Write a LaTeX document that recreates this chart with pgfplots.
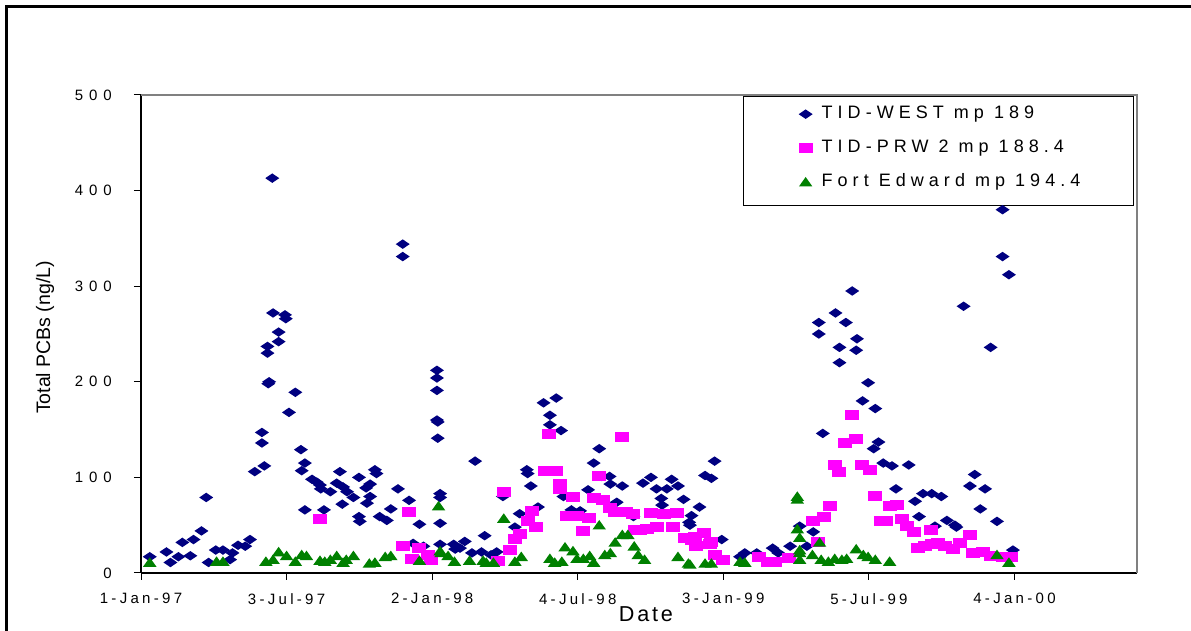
\documentclass[border=0pt]{standalone}
\usepackage{fontspec}
\setmainfont{Liberation Sans}
\usepackage{pgfplots}
\pgfplotsset{compat=1.18}
\newfontfamily\ytickfont[LetterSpace=40]{Liberation Sans}
\newfontfamily\xtickfont[LetterSpace=22]{Liberation Sans}
\newfontfamily\legfont[LetterSpace=28]{Liberation Sans}
\newfontfamily\datefont[LetterSpace=13]{Liberation Sans}
\definecolor{navyc}{HTML}{000080}
\definecolor{magc}{HTML}{FF00FF}
\definecolor{grnc}{HTML}{008000}
\pgfdeclareplotmark{wdia}{%
  \pgfpathmoveto{\pgfqpoint{7pt}{0pt}}%
  \pgfpathlineto{\pgfqpoint{0pt}{4.75pt}}%
  \pgfpathlineto{\pgfqpoint{-7pt}{0pt}}%
  \pgfpathlineto{\pgfqpoint{0pt}{-4.75pt}}%
  \pgfpathclose\pgfusepathqfill}
\pgfdeclareplotmark{wsq}{%
  \pgfpathrectangle{\pgfqpoint{-7pt}{-5pt}}{\pgfqpoint{14pt}{10pt}}%
  \pgfusepathqfill}
\pgfdeclareplotmark{wtri}{%
  \pgfpathmoveto{\pgfqpoint{0pt}{5.2pt}}%
  \pgfpathlineto{\pgfqpoint{6.75pt}{-4.3pt}}%
  \pgfpathlineto{\pgfqpoint{-6.75pt}{-4.3pt}}%
  \pgfpathclose\pgfusepathqfill}
\begin{document}
\begin{tikzpicture}[x=1pt,y=1pt]
\useasboundingbox (0,0) rectangle (1191,631);
\draw[line width=3pt] (6.5,-10) -- (6.5,624.5) -- (1200,624.5);
\begin{axis}[
  at={(141pt,58pt)}, anchor=south west,
  scale only axis, width=996pt, height=478pt,
  xmin=0, xmax=1252, ymin=0, ymax=500,
  clip=false,
  axis lines*=left,
  axis line style={-, black, line width=1.2pt},
  tick align=outside,
  major tick length=7pt,
  every tick/.style={black, line width=1pt},
  xtick={0,183,366,549,732,915,1098},
  xticklabels={1-Jan-97,3-Jul-97,2-Jan-98,4-Jul-98,3-Jan-99,5-Jul-99,4-Jan-00},
  ytick={0,100,200,300,400,500},
  yticklabels={0,100,200,300,400,500},
  xticklabel style={font=\xtickfont\fontsize{15}{18}\selectfont, inner sep=0pt, anchor=north, yshift=-13pt},
  yticklabel style={font=\ytickfont\fontsize{15}{18}\selectfont, inner sep=0pt, anchor=east, xshift=-22pt},
  xlabel={Date},
  xlabel style={at={(rel axis cs:0.507,0)}, anchor=north, yshift=-30pt, font=\datefont\fontsize{21.6}{26}\selectfont},
  ylabel={Total PCBs (ng/L)},
  ylabel style={at={(rel axis cs:-0.0964,0.4927)}, anchor=center, font=\fontsize{19.5}{23}\selectfont},
  legend cell align=left,
  legend style={draw=none, fill=none, at={(rel axis cs:0.6601,0.9906)}, anchor=north west,
    inner sep=0pt, row sep=5pt, font=\legfont\fontsize{18}{21.6}\selectfont,
    nodes={text height=13pt, text depth=4pt, inner ysep=6pt},
    /tikz/every odd column/.append style={column sep=7pt}},
]
\draw[gray, line width=1.2pt] (rel axis cs:0,1) -- (rel axis cs:1,1) -- (rel axis cs:1,0);
\draw[black, line width=0.8pt] (rel axis cs:0.6044,0.9979) rectangle (rel axis cs:0.9960,0.7699);
\addplot[only marks, mark=wdia, color=navyc] coordinates {
(11,17)(32,22)(37,11)(47,17)(52,32)(62,18)(66,35)(76,44)(82,79)(85,11)(94,24)(103,24)(112,14)(115,21)(122,29)(131,28)(137,35)(143,106)(152,147)(152,136)(155,112)(159,237)(159,230)(160,198)(161,200)(165,413)(166,272)(173,252)(173,242)(181,270)(182,266)(186,168)(194,189)(201,129)(202,107)(206,115)(206,66)(215,98)(221,95)(225,92)(226,88)(230,66)(238,85)(246,94)(250,106)(253,72)(254,90)(259,85)(267,79)(274,100)(274,59)(275,54)(283,89)(284,73)(288,93)(288,80)(294,108)(296,104)(300,59)(309,55)(314,67)(323,88)(329,344)(329,331)(337,76)(342,31)(350,51)(355,28)(372,212)(372,204)(372,191)(372,160)(373,158)(373,141)(376,83)(376,79)(376,52)(376,30)(393,30)(395,25)(401,26)(407,33)(416,21)(420,117)(428,22)(432,39)(440,19)(447,22)(455,80)(470,48)(476,62)(485,108)(486,104)(490,91)(499,69)(506,178)(514,165)(514,155)(522,183)(528,149)(531,80)(541,66)(552,65)(562,87)(569,115)(576,130)(579,101)(589,101)(590,93)(598,74)(605,91)(619,59)(631,94)(641,100)(648,88)(654,78)(655,71)(661,88)(667,98)(675,91)(682,77)(689,53)(690,50)(692,60)(702,69)(709,102)(717,99)(721,117)(730,35)(753,17)(759,21)(774,21)(794,26)(801,21)(816,28)(828,49)(837,28)(845,43)(852,262)(852,250)(857,146)(873,272)(878,236)(878,220)(886,262)(894,295)(899,233)(900,245)(907,180)(914,199)(921,130)(923,172)(927,137)(933,115)(944,112)(949,88)(965,113)(973,75)(978,59)(983,83)(994,83)(998,49)(1006,80)(1013,55)(1023,50)(1025,48)(1034,279)(1042,91)(1048,103)(1055,67)(1061,88)(1068,236)(1076,54)(1083,380)(1083,331)(1091,312)(1096,24)
};
\addlegendentry{TID-WEST mp 189}
\addplot[only marks, mark=wsq, color=magc] coordinates {
(225,57)(329,28)(337,64)(341,15)(349,26)(361,19)(364,14)(449,13)(456,85)(464,24)(470,36)(476,41)(486,54)(491,65)(497,48)(508,107)(513,145)(522,107)(527,93)(527,88)(535,60)(543,79)(548,60)(555,44)(563,58)(569,78)(576,101)(581,76)(589,68)(596,64)(605,142)(610,64)(619,62)(621,45)(627,45)(636,46)(641,63)(648,48)(657,62)(669,48)(674,63)(684,37)(692,35)(696,38)(698,28)(708,42)(715,30)(717,32)(721,19)(732,14)(777,17)(788,12)(797,11)(815,16)(845,54)(851,32)(858,59)(866,70)(872,113)(878,106)(885,136)(894,165)(899,140)(906,113)(916,108)(923,81)(930,54)(937,54)(941,70)(950,71)(956,57)(963,49)(972,43)(977,26)(985,28)(993,45)(994,30)(1002,31)(1011,28)(1021,25)(1030,31)(1042,40)(1046,21)(1059,22)(1069,18)(1084,17)(1094,17)
};
\addlegendentry{TID-PRW 2 mp 188.4}
\addplot[only marks, mark=wtri, color=grnc] coordinates {
(11,11)(95,12)(103,12)(157,12)(166,14)(173,22)(183,18)(194,12)(202,19)(208,18)(225,13)(231,12)(238,14)(246,18)(254,11)(258,14)(267,18)(287,10)(294,11)(307,17)(314,18)(350,13)(374,70)(376,23)(377,21)(386,18)(394,12)(413,13)(430,13)(434,11)(443,11)(456,57)(470,12)(478,17)(514,15)(520,11)(529,12)(533,27)(543,23)(548,15)(556,15)(564,18)(569,11)(576,50)(583,19)(590,21)(596,32)(605,40)(612,40)(620,28)(625,19)(633,14)(675,17)(688,10)(690,9)(709,10)(717,10)(753,12)(759,11)(825,80)(825,77)(825,46)(828,37)(828,24)(828,21)(828,14)(844,19)(853,32)(855,14)(864,12)(872,15)(881,14)(887,15)(899,25)(908,19)(914,17)(923,14)(941,12)(1076,19)(1091,11)
};
\addlegendentry{Fort Edward mp 194.4}
\end{axis}
\end{tikzpicture}
\end{document}
